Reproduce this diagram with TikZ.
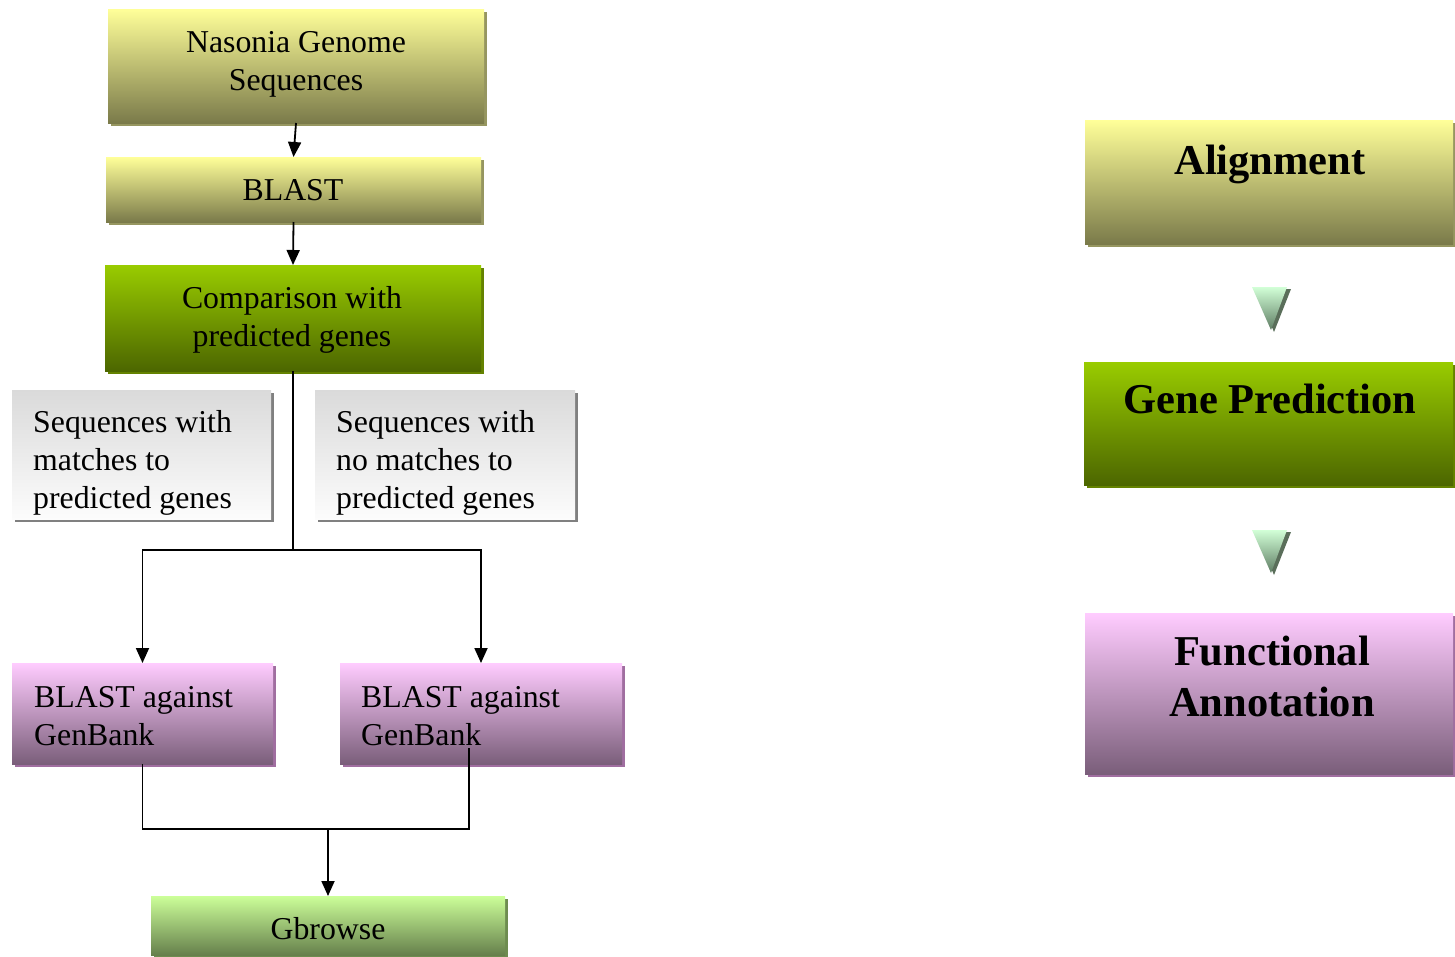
\documentclass[tikz,border=0pt]{standalone}
\usepackage{fontspec}
\setmainfont{Liberation Serif}
\usetikzlibrary{arrows.meta,shadows}

\definecolor{ylwTop}{RGB}{255,255,153}
\definecolor{ylwBot}{RGB}{122,122,74}
\definecolor{ylwSh}{RGB}{150,150,96}
\definecolor{grnTop}{RGB}{153,204,0}
\definecolor{grnBot}{RGB}{76,102,0}
\definecolor{grnSh}{RGB}{100,130,0}
\definecolor{gryTop}{RGB}{218,218,218}
\definecolor{gryBot}{RGB}{252,252,252}
\definecolor{grySh}{RGB}{128,128,128}
\definecolor{pnkTop}{RGB}{255,204,255}
\definecolor{pnkBot}{RGB}{122,94,122}
\definecolor{pnkSh}{RGB}{160,110,160}
\definecolor{lgrTop}{RGB}{204,255,153}
\definecolor{lgrBot}{RGB}{102,128,76}
\definecolor{lgrSh}{RGB}{110,140,80}
\definecolor{triTop}{RGB}{210,255,215}
\definecolor{triBot}{RGB}{95,125,100}
\definecolor{triSh}{RGB}{90,110,90}

\tikzset{
  box/.style={anchor=north west, inner sep=0pt, outer sep=0pt},
  shaded/.style n args={3}{top color=#1, bottom color=#2,
    general shadow={fill=#3, shadow xshift=3pt, shadow yshift=-3pt}},
  ylw/.style={shaded={ylwTop}{ylwBot}{ylwSh}},
  grn/.style={shaded={grnTop}{grnBot}{grnSh}},
  gry/.style={shaded={gryTop}{gryBot}{grySh}},
  pnk/.style={shaded={pnkTop}{pnkBot}{pnkSh}},
  lgr/.style={shaded={lgrTop}{lgrBot}{lgrSh}},
  txt/.style={inner sep=0pt, font=\fontsize{31.8}{38}\selectfont},
  big/.style={inner sep=0pt, font=\fontsize{42.5}{51}\selectfont\bfseries, align=center},
  link/.style={line width=1.8pt, black},
  arrow/.style={link, -{Triangle[length=15pt, width=13pt]}},
}

\begin{document}
\begin{tikzpicture}[x=1pt, y=-1pt]
\useasboundingbox (0,0) rectangle (1455,956);

% ---------- pipeline on the left ----------
\node[box, ylw, minimum width=376pt, minimum height=114pt] (nas) at (108,9) {};
\node[box, ylw, minimum width=375pt, minimum height=65pt] (blast) at (106,157) {};
\node[box, grn, minimum width=376pt, minimum height=106pt] (comp) at (105,265) {};
\node[box, gry, minimum width=259pt, minimum height=129pt] (mat) at (12,390) {};
\node[box, gry, minimum width=260pt, minimum height=129pt] (nomat) at (315,390) {};
\node[box, pnk, minimum width=261pt, minimum height=101pt] (gb1) at (12,663) {};
\node[box, pnk, minimum width=282pt, minimum height=101pt] (gb2) at (340,663) {};
\node[box, lgr, minimum width=354pt, minimum height=59pt] (gbr) at (151,896) {};

\node[txt, align=center] (tnas) at (296,64) {Nasonia Genome\\Sequences};
\node[txt] (tblast) at (293,190) {BLAST};
\node[txt, align=center] (tcomp) at (292,320) {Comparison with\\predicted genes};
\node[txt, align=left, anchor=west] (tmat) at (33,463) {Sequences with\\matches to\\predicted genes};
\node[txt, align=left, anchor=west] (tnomat) at (336,463) {Sequences with\\no matches to\\predicted genes};
\node[txt, align=left, anchor=west] (tgb1) at (34,716) {BLAST against\\GenBank};
\node[txt, align=left, anchor=west] (tgb2) at (361,716) {BLAST against\\GenBank};
\node[txt] (tgbr) at (328,929) {Gbrowse};

% ---------- connectors ----------
\coordinate (split) at (293,550);
\coordinate (merge) at (328,829);
\coordinate (gbtail) at (469,748);

\draw[arrow] (nas.south) -- (blast.north);
\draw[arrow] (blast.south) -- (comp.north);
\draw[link] (comp.south) -- (split);
\draw[arrow] (split) -| (gb1.north);
\draw[arrow] (split) -| (gb2.north);
\draw[link] (gb1.south) |- (merge);
\draw[link] (gbtail) |- (merge);
\draw[arrow] (merge) -- (gbr.north);

% ---------- overview on the right ----------
\node[box, ylw, minimum width=368pt, minimum height=124pt] (ali) at (1085,120) {};
\node[box, grn, minimum width=369pt, minimum height=123pt] (pred) at (1084,362) {};
\node[box, pnk, minimum width=368pt, minimum height=161pt] (fun) at (1085,613) {};

\node[big] (tali) at (1270,164) {Alignment};
\node[big] (tpred) at (1270,399) {Gene Prediction};
\node[big] (tfun) at (1272,676) {Functional\\Annotation};

% small shaded triangles between the stages
\foreach \ty in {287,530} {
  \fill[triSh] (1256,\ty+2) -- (1291,\ty+2) -- (1274,\ty+45) -- cycle;
  \shade[top color=triTop, bottom color=triBot]
    (1252,\ty) -- (1287,\ty) -- (1271,\ty+43) -- cycle;
}
\end{tikzpicture}
\end{document}
